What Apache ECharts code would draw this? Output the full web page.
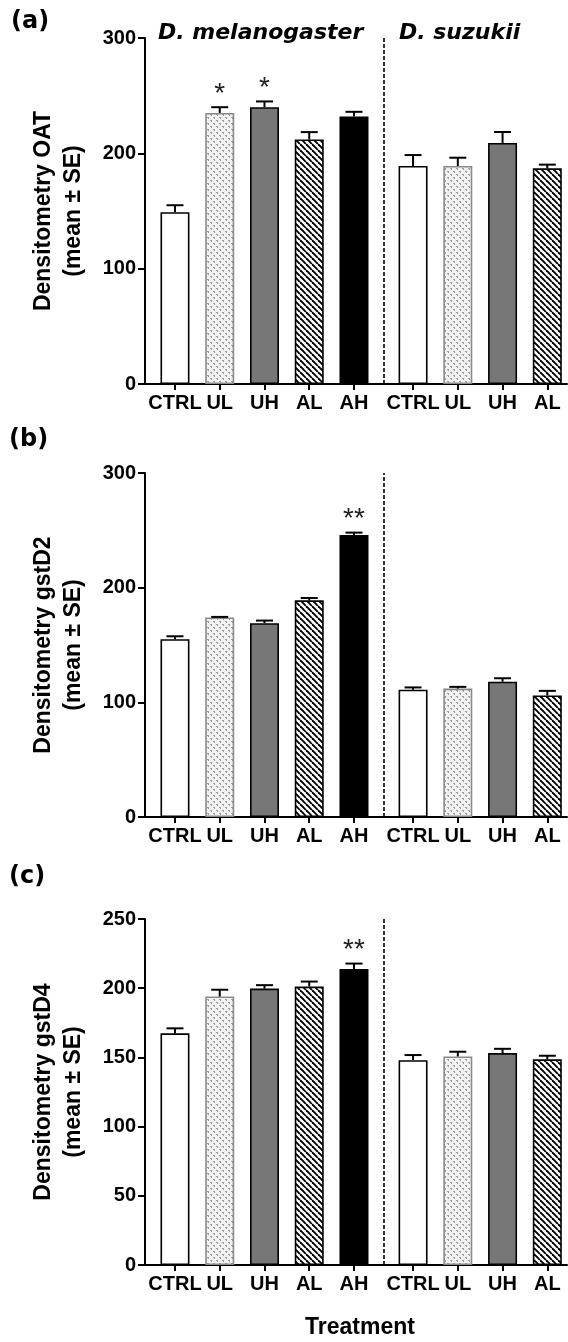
<!DOCTYPE html>
<html>
<head>
<meta charset="utf-8">
<script src="https://cdn.jsdelivr.net/npm/echarts@6/dist/echarts.min.js"></script>
<style>
  html, body { margin: 0; padding: 0; background: #fff; }
  #chart { width: 568px; height: 1342px; }
</style>
</head>
<body>
<div id="chart"></div>
<script>
// categories (5 D. melanogaster + 4 D. suzukii)
const categories = ['CTRL', 'UL', 'UH', 'AL', 'AH', 'CTRL', 'UL', 'UH', 'AL'];
const speciesGroup = [0, 0, 0, 0, 0, 1, 1, 1, 1];
const speciesNames = ['D. melanogaster', 'D. suzukii'];

// (a) OAT
const oatMean = [149, 235, 240, 212, 232, 189, 189, 209, 187];
const oatSE = [6, 5, 5, 6.4, 4, 9.5, 7.2, 9.5, 3.2];
const oatStars = ['', '*', '*', '', '', '', '', '', ''];

// (b) gstD2
const gstD2Mean = [155, 174, 169, 189, 246, 111, 112, 118, 106];
const gstD2SE = [2.6, 0.5, 2.3, 2, 2, 2, 1.5, 3, 4];
const gstD2Stars = ['', '', '', '', '**', '', '', '', ''];

// (c) gstD4
const gstD4Mean = [167.4, 194, 199.7, 201.2, 213.8, 148, 150.7, 153.1, 148.6];
const gstD4SE = [3.6, 4.9, 2.5, 3.6, 4, 3.7, 3.4, 3.1, 2.6];
const gstD4Stars = ['', '', '', '', '**', '', '', '', ''];

const yTicksAB = { min: 0, max: 300, interval: 100 };
const yTicksC = { min: 0, max: 250, interval: 50 };

// extra space between the two species groups (in category units)
const groupGap = 0.32;
const positions = categories.map((c, i) => i + speciesGroup[i] * groupGap);
const separator = (positions[4] + positions[5]) / 2;

const FONT = '"Liberation Sans", Arial, sans-serif';
const WIDE = '"DejaVu Sans", sans-serif';

function makeDots() {
  const c = document.createElement('canvas');
  c.width = 6; c.height = 6;
  const g = c.getContext('2d');
  g.fillStyle = '#f2f2f2';
  g.fillRect(0, 0, 6, 6);
  g.fillStyle = '#9c9c9c';
  g.fillRect(0, 0, 2, 1);
  g.fillRect(1, 1, 1, 1);
  g.fillRect(3, 3, 2, 1);
  g.fillRect(4, 4, 1, 1);
  return c;
}
function makeHatch() {
  const c = document.createElement('canvas');
  c.width = 6; c.height = 6;
  const g = c.getContext('2d');
  g.fillStyle = '#fff';
  g.fillRect(0, 0, 6, 6);
  g.strokeStyle = '#000';
  g.lineWidth = 1.9;
  [-6, 0, 6].forEach(k => {
    g.beginPath();
    g.moveTo(k, 0);
    g.lineTo(k + 6, 6);
    g.stroke();
  });
  return c;
}

const styles = {
  CTRL: { color: '#ffffff', borderColor: '#000', borderWidth: 1.6 },
  UL: { color: { image: makeDots(), repeat: 'repeat' }, borderColor: '#8a8a8a', borderWidth: 1.6 },
  UH: { color: '#777777', borderColor: '#000', borderWidth: 1.6 },
  AL: { color: { image: makeHatch(), repeat: 'repeat' }, borderColor: '#000', borderWidth: 1.6 },
  AH: { color: '#000000', borderColor: '#000', borderWidth: 1.6 }
};

const panels = [
  { top: 38, height: 346, mean: oatMean, se: oatSE, stars: oatStars, y: yTicksAB, name: 'Densitometry OAT\n(mean \u00b1 SE)' },
  { top: 473, height: 344, mean: gstD2Mean, se: gstD2SE, stars: gstD2Stars, y: yTicksAB, name: 'Densitometry gstD2\n(mean \u00b1 SE)' },
  { top: 919, height: 346, mean: gstD4Mean, se: gstD4SE, stars: gstD4Stars, y: yTicksC, name: 'Densitometry gstD4\n(mean \u00b1 SE)' }
];

const axisText = { color: '#000', fontFamily: FONT, fontWeight: 'bold', fontSize: 20 };

const grid = [], xAxis = [], yAxis = [], series = [];
panels.forEach((p, k) => {
  grid.push({ left: 145, right: 1, top: p.top, height: p.height });
  xAxis.push({
    type: 'value', gridIndex: k, min: -0.67, max: 8.76,
    axisLine: { show: true, onZero: false, lineStyle: { color: '#000', width: 2 } },
    axisTick: { show: true, length: 6, lineStyle: { color: '#000', width: 2 }, customValues: positions },
    axisLabel: Object.assign({}, axisText, {
      margin: 9, customValues: positions,
      formatter: v => {
        const i = positions.findIndex(q => Math.abs(q - v) < 1e-6);
        return i >= 0 ? categories[i] : '';
      }
    }),
    splitLine: { show: false }
  });
  yAxis.push({
    type: 'value', gridIndex: k, min: p.y.min, max: p.y.max, interval: p.y.interval,
    axisLine: { show: true, onZero: false, lineStyle: { color: '#000', width: 2 } },
    axisTick: { show: true, length: 7, lineStyle: { color: '#000', width: 2 } },
    axisLabel: Object.assign({}, axisText, { margin: 9 }),
    splitLine: { show: false },
    name: p.name, nameLocation: 'middle', nameRotate: 90, nameGap: 56,
    nameTextStyle: { color: '#000', fontFamily: FONT, fontWeight: 'bold', fontSize: 23, lineHeight: 30 }
  });
  series.push({
    type: 'bar', xAxisIndex: k, yAxisIndex: k, barWidth: 29, silent: true,
    data: p.mean.map((v, i) => ({ value: [positions[i], v], itemStyle: styles[categories[i]] })),
    markLine: {
      silent: true, symbol: ['none', 'none'], label: { show: false },
      lineStyle: { color: '#000', type: [4, 2], width: 1.6 },
      data: [{ xAxis: separator }]
    },
    z: 2
  });
  series.push({
    type: 'custom', xAxisIndex: k, yAxisIndex: k, silent: true, z: 3,
    data: p.mean.map((v, i) => [positions[i], v, p.se[i]]),
    encode: { x: 0, y: 1 },
    renderItem: (params, api) => {
      const x = api.value(0), m = api.value(1), s = api.value(2);
      const base = api.coord([x, m]);
      const cap = api.coord([x, m + s]);
      const children = [
        { type: 'line', shape: { x1: base[0], y1: base[1], x2: cap[0], y2: cap[1] }, style: { stroke: '#000', lineWidth: 2 } },
        { type: 'line', shape: { x1: cap[0] - 8.5, y1: cap[1], x2: cap[0] + 8.5, y2: cap[1] }, style: { stroke: '#000', lineWidth: 2 } }
      ];
      const star = p.stars[params.dataIndex];
      if (star) {
        children.push({
          type: 'text',
          style: { text: star, x: cap[0], y: cap[1] - 13, align: 'center', verticalAlign: 'middle',
                   fontSize: 28, fontFamily: FONT, fill: '#222' }
        });
      }
      return { type: 'group', children };
    }
  });
});

const titleStyle = { fill: '#000', fontFamily: WIDE, fontWeight: 'bold', fontStyle: 'italic', fontSize: 22, verticalAlign: 'middle' };
const letterStyle = { fill: '#000', fontFamily: WIDE, fontWeight: 'bold', fontSize: 24, verticalAlign: 'middle' };

const chart = echarts.init(document.getElementById('chart'), null, { renderer: 'canvas' });
chart.setOption({
  backgroundColor: '#fff',
  animation: false,
  grid, xAxis, yAxis, series,
  graphic: [
    { type: 'text', left: 158, top: 22, style: Object.assign({ text: speciesNames[0] }, titleStyle) },
    { type: 'text', left: 399, top: 22, style: Object.assign({ text: speciesNames[1] }, titleStyle) },
    { type: 'text', left: 11, top: 10, style: Object.assign({ text: '(a)' }, letterStyle) },
    { type: 'text', left: 9, top: 428, style: Object.assign({ text: '(b)' }, letterStyle) },
    { type: 'text', left: 9, top: 865, style: Object.assign({ text: '(c)' }, letterStyle) },
    { type: 'text', left: 305, top: 1316, style: { text: 'Treatment', fill: '#000', fontFamily: FONT, fontWeight: 'bold', fontSize: 23 } }
  ]
});
</script>
</body>
</html>
